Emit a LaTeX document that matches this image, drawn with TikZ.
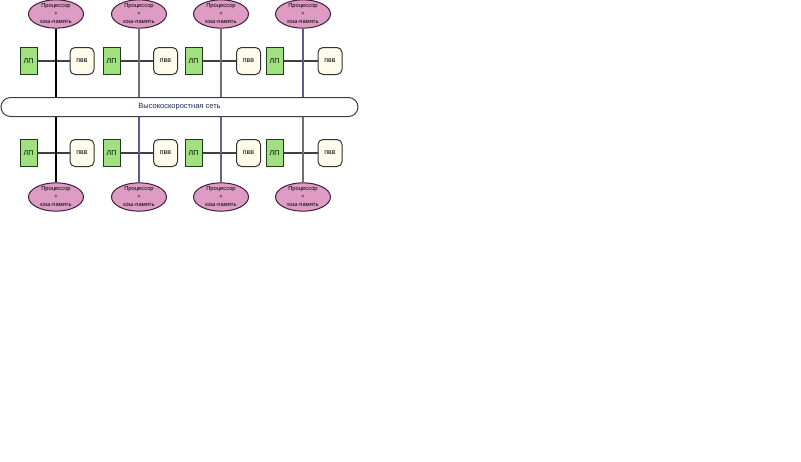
\documentclass[tikz,border=0pt]{standalone}
\usepackage{fontspec}
\setmainfont{Liberation Sans}
\usepackage{xcolor}
\definecolor{cpufill}{RGB}{222,156,196}
\definecolor{cpuline}{RGB}{60,30,60}
\definecolor{lpfill}{RGB}{160,224,128}
\definecolor{lpline}{RGB}{30,60,30}
\definecolor{iofill}{RGB}{255,251,234}
\definecolor{netline}{RGB}{60,60,80}
\definecolor{netext}{RGB}{25,40,80}
\definecolor{linkgray}{RGB}{112,112,112}
\definecolor{linkblue}{RGB}{90,90,150}
\tikzset{
  cpu/.style={ellipse, draw=cpuline, fill=cpufill, minimum width=55pt, minimum height=27pt,
    inner sep=0pt, align=center, font=\fontsize{5.8}{8}\selectfont},
  lp/.style={draw=lpline, fill=lpfill, minimum width=17pt, minimum height=27pt, inner sep=0pt},
  io/.style={draw=black!80, fill=iofill, rounded corners=5pt, minimum width=24pt, minimum height=27pt, inner sep=0pt},
  net/.style={draw=netline, fill=white, rounded corners=9.5pt, minimum width=357pt, minimum height=19pt,
    inner sep=0pt, text=netext, font=\fontsize{7.5}{9}\selectfont}
}
\usetikzlibrary{shapes.geometric}
\begin{document}
\begin{tikzpicture}[x=1pt, y=-1pt, font=\fontsize{7}{8}\selectfont, line width=1pt]
      \useasboundingbox (0,0) rectangle (801,461);
      \node[net, name=n] at (179.5,107) {Высокоскоростная сеть};

      % upper row
      \node[cpu, name=a1] at (56,14) {Процессор\\+\\кэш-память};
      \node[cpu, name=a2] at (139,14) {Процессор\\+\\кэш-память};
      \node[cpu, name=a3] at (221,14) {Процессор\\+\\кэш-память};
      \node[cpu, name=a4] at (303,14) {Процессор\\+\\кэш-память};
      \node[lp, name=l1] at (28.5,61) {ЛП};
      \node[lp, name=l2] at (111.5,61) {ЛП};
      \node[lp, name=l3] at (193.5,61) {ЛП};
      \node[lp, name=l4] at (274.5,61) {ЛП};
      \node[io, name=v1] at (82,61) {пвв};
      \node[io, name=v2] at (165.5,61) {пвв};
      \node[io, name=v3] at (248.5,61) {пвв};
      \node[io, name=v4] at (330,61) {пвв};

      % lower row
      \node[cpu, name=b1] at (56,197) {Процессор\\+\\кэш-память};
      \node[cpu, name=b2] at (139,197) {Процессор\\+\\кэш-память};
      \node[cpu, name=b3] at (221,197) {Процессор\\+\\кэш-память};
      \node[cpu, name=b4] at (303,197) {Процессор\\+\\кэш-память};
      \node[lp, name=m1] at (28.5,153) {ЛП};
      \node[lp, name=m2] at (111.5,153) {ЛП};
      \node[lp, name=m3] at (193.5,153) {ЛП};
      \node[lp, name=m4] at (274.5,153) {ЛП};
      \node[io, name=w1] at (82,153) {пвв};
      \node[io, name=w2] at (165.5,153) {пвв};
      \node[io, name=w3] at (248.5,153) {пвв};
      \node[io, name=w4] at (330,153) {пвв};

      \path[-, draw=black!75, line width=1.3pt]
         (l1) edge (v1)
         (l2) edge (v2)
         (l3) edge (v3)
         (l4) edge (v4)
         (m1) edge (w1)
         (m2) edge (w2)
         (m3) edge (w3)
         (m4) edge (w4);
      \path[-, line width=1.3pt]
         (a1) edge[black] (a1 |- n.north)
         (a2) edge[linkgray] (a2 |- n.north)
         (a3) edge[linkgray] (a3 |- n.north)
         (a4) edge[linkblue] (a4 |- n.north)
         (b1) edge[black] (b1 |- n.south)
         (b2) edge[linkblue] (b2 |- n.south)
         (b3) edge[linkblue!60!linkgray] (b3 |- n.south)
         (b4) edge[linkgray] (b4 |- n.south);
   \end{tikzpicture}
\end{document}
